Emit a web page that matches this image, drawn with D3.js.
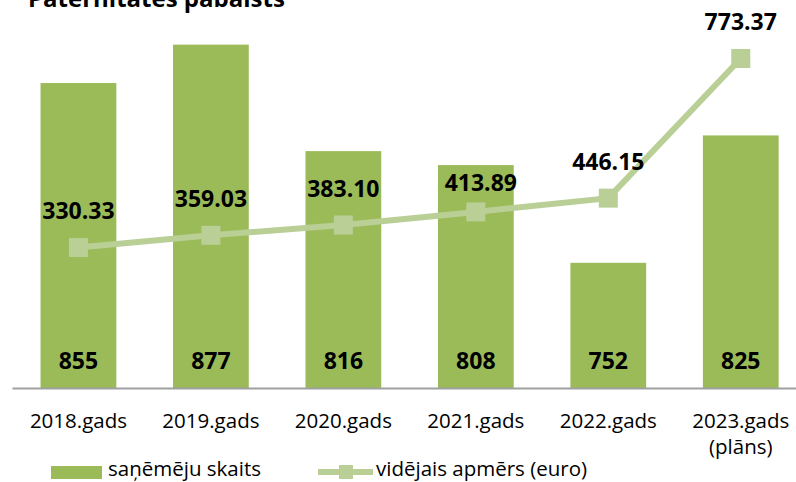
<!DOCTYPE html>
<html>
<head>
<meta charset="utf-8">
<script src="https://cdn.jsdelivr.net/npm/d3@7"></script>
<style>
  html, body { margin: 0; padding: 0; background: #fff; }
  svg text { font-family: 'Open Sans', sans-serif; fill: #000; }
</style>
</head>
<body>
<div id="chart"></div>
<script>
// data
const years = ['2018.gads', '2019.gads', '2020.gads', '2021.gads', '2022.gads', '2023.gads'];
const yearNotes = ['', '', '', '', '', '(plāns)'];
const recipients = [855, 877, 816, 808, 752, 825];
const avgAmount = [330.33, 359.03, 383.10, 413.89, 446.15, 773.37];
const barAxisDomain = [680, 900];
const lineAxisDomain = [0, 900];

const width = 796;
const height = 482;
const baseY = 388.5;
const topY = 4.5;
const barColor = '#9BBB59';
const lineColor = '#B9CF96';

const svg = d3.select('#chart')
  .append('svg')
  .attr('width', width)
  .attr('height', height)
  .attr('viewBox', [0, 0, width, height]);

const x = d3.scaleBand()
  .domain(years)
  .range([12.2, 807])
  .paddingInner(0.428)
  .paddingOuter(0.214);

const yBar = d3.scaleLinear().domain(barAxisDomain).range([baseY, topY]);
const yLine = d3.scaleLinear().domain(lineAxisDomain).range([baseY, topY]);

// title (cut at top like the original)
svg.append('text')
  .attr('x', 28)
  .attr('y', 7)
  .style('font-size', '24px')
  .style('font-weight', 700)
  .text('Paternitātes pabalsts');

// bars
svg.selectAll('rect.bar')
  .data(recipients)
  .enter()
  .append('rect')
  .attr('class', 'bar')
  .attr('x', (d, i) => x(years[i]))
  .attr('y', (d) => yBar(d))
  .attr('width', x.bandwidth())
  .attr('height', (d) => baseY - yBar(d))
  .attr('fill', barColor);

// x axis
const xAxis = svg.append('g')
  .attr('transform', `translate(0, ${baseY})`)
  .call(d3.axisBottom(x).tickSize(0).tickPadding(0));
xAxis.select('.domain')
  .attr('d', `M12.5,0H${width}`)
  .attr('stroke', '#A0A0A0')
  .attr('stroke-width', 1.8);
xAxis.selectAll('.tick text')
  .attr('y', 39)
  .attr('dy', 0)
  .style('font-family', "'Open Sans', sans-serif")
  .style('font-size', '20.5px')
  .attr('fill', '#000');
xAxis.selectAll('.tick')
  .each(function (d, i) {
    if (yearNotes[i]) {
      d3.select(this).append('text')
        .attr('y', 65)
        .attr('text-anchor', 'middle')
        .style('font-size', '20.5px')
        .text(yearNotes[i]);
    }
  });

// bar value labels
svg.selectAll('text.barlabel')
  .data(recipients)
  .enter()
  .append('text')
  .attr('class', 'barlabel')
  .attr('x', (d, i) => x(years[i]) + x.bandwidth() / 2)
  .attr('y', baseY - 19.5)
  .attr('text-anchor', 'middle')
  .style('font-size', '23px')
  .style('font-weight', 700)
  .text((d) => d);

// line
const cx = (i) => x(years[i]) + x.bandwidth() / 2;
const line = d3.line()
  .x((d, i) => cx(i))
  .y((d) => yLine(d));

svg.append('path')
  .datum(avgAmount)
  .attr('d', line)
  .attr('fill', 'none')
  .attr('stroke', lineColor)
  .attr('stroke-width', 6);

const mk = 19;
svg.selectAll('rect.marker')
  .data(avgAmount)
  .enter()
  .append('rect')
  .attr('class', 'marker')
  .attr('x', (d, i) => cx(i) - mk / 2)
  .attr('y', (d) => yLine(d) - mk / 2)
  .attr('width', mk)
  .attr('height', mk)
  .attr('fill', lineColor);

// 2021 label sits a bit lower in the original
const nudge = { 3: { dx: 5, dy: 8 } };
svg.selectAll('text.linelabel')
  .data(avgAmount)
  .enter()
  .append('text')
  .attr('class', 'linelabel')
  .attr('x', (d, i) => cx(i) + (nudge[i] ? nudge[i].dx : 0))
  .attr('y', (d, i) => yLine(d) - 28.5 + (nudge[i] ? nudge[i].dy : 0))
  .attr('text-anchor', 'middle')
  .style('font-size', '23px')
  .style('font-weight', 700)
  .text((d) => d.toFixed(2));

// legend
const legend = svg.append('g');
legend.append('rect')
  .attr('x', 51)
  .attr('y', 466)
  .attr('width', 51)
  .attr('height', 13)
  .attr('fill', barColor);
legend.append('text')
  .attr('x', 108)
  .attr('y', 476)
  .style('font-size', '20.5px')
  .text('saņēmēju skaits');
legend.append('line')
  .attr('x1', 318)
  .attr('x2', 373)
  .attr('y1', 472)
  .attr('y2', 472)
  .attr('stroke', lineColor)
  .attr('stroke-width', 6);
legend.append('rect')
  .attr('x', 339)
  .attr('y', 465)
  .attr('width', 14)
  .attr('height', 14)
  .attr('fill', lineColor);
legend.append('text')
  .attr('x', 376)
  .attr('y', 476)
  .style('font-size', '20.5px')
  .text('vidējais apmērs (euro)');
</script>
</body>
</html>
